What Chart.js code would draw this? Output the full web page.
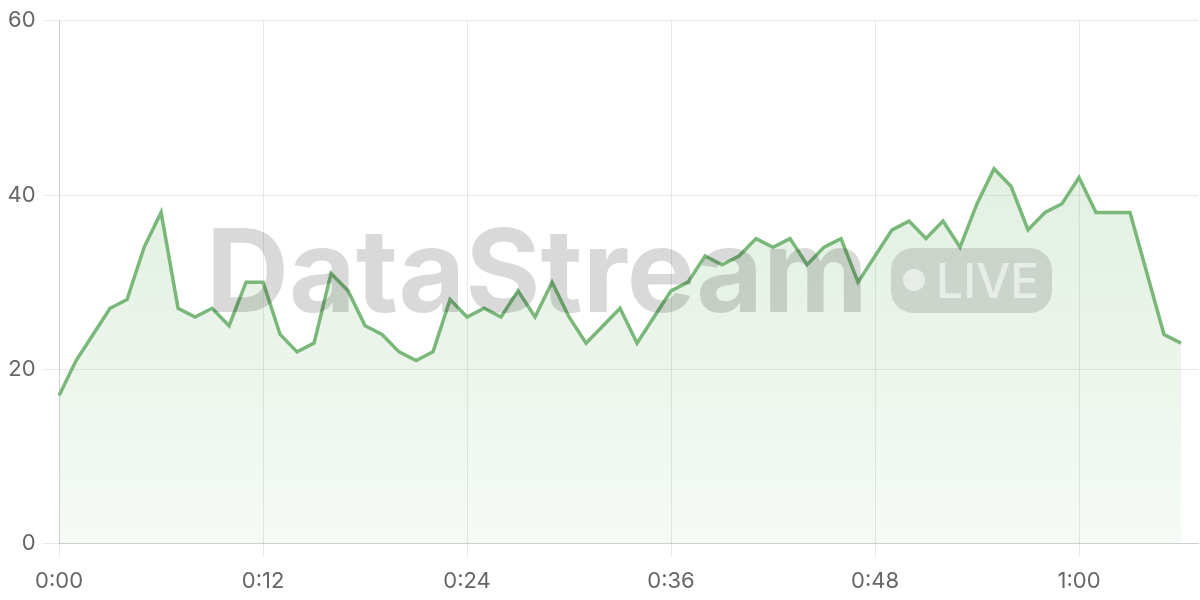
<!DOCTYPE html>
<html>
<head>
<meta charset="utf-8">
<script src="https://cdn.jsdelivr.net/npm/chart.js@4"></script>
<style>
  body { margin: 0; background: #fff; }
  #wrap { position: relative; width: 1200px; height: 600px; }
  .wm { position: absolute; pointer-events: none; font-family: Inter, "Noto Sans", sans-serif; font-weight: 700; }
  #wm-text { left: 206px; top: 201px; font-size: 115px; letter-spacing: 0px; color: rgba(0,0,0,0.15); line-height: 140px; }
  #wm-pill { left: 891px; top: 248px; width: 161px; height: 65px; border-radius: 22px; background: rgba(0,0,0,0.12); }
  #wm-dot { left: 903px; top: 269px; width: 22px; height: 22px; border-radius: 50%; background: rgba(255,255,255,0.55); }
  #wm-live { left: 936px; top: 250px; font-size: 48px; font-weight: 500; color: rgba(255,255,255,0.55); line-height: 62px; }
</style>
</head>
<body>
<div id="wrap">
  <canvas id="chart" width="1200" height="600"></canvas>
  <div class="wm" id="wm-text">DataStream</div>
  <div class="wm" id="wm-pill"></div>
  <div class="wm" id="wm-dot"></div>
  <div class="wm" id="wm-live">LIVE</div>
</div>
<script>
// minutes 0..67, one point per minute (last slot empty)
const minutes = Array.from({ length: 68 }, (_, i) => i);
const timeLabels = minutes.map((m) => Math.floor(m / 60) + ":" + String(m % 60).padStart(2, "0"));

const values = [
  17, 21, 24, 27, 28, 34, 38, 27, 26, 27, 25, 30, 30, 24, 22, 23, 31, 29, 25, 24,
  22, 21, 22, 28, 26, 27, 26, 29, 26, 30, 26, 23, 25, 27, 23, 26, 29, 30, 33, 32,
  33, 35, 34, 35, 32, 34, 35, 30, 33, 36, 37, 35, 37, 34, 39, 43, 41, 36, 38, 39,
  42, 38, 38, 38, 31, 24, 23,
];

const yTicks = [0, 20, 40, 60];

const ctx = document.getElementById("chart").getContext("2d");

new Chart(ctx, {
  type: "line",
  data: {
    labels: timeLabels,
    datasets: [
      {
        data: values,
        borderColor: "#79b879",
        borderWidth: 3.5,
        pointRadius: 0,
        tension: 0,
        fill: "origin",
        backgroundColor: (c) => {
          const area = c.chart.chartArea;
          if (!area) return "rgba(121,184,121,0.15)";
          const g = c.chart.ctx.createLinearGradient(0, area.top, 0, area.bottom);
          g.addColorStop(0, "rgba(121,184,121,0.28)");
          g.addColorStop(1, "rgba(121,184,121,0.07)");
          return g;
        },
      },
    ],
  },
  options: {
    responsive: false,
    animation: false,
    layout: { padding: { top: 6, right: 2, left: 0, bottom: -6 } },
    plugins: { legend: { display: false }, tooltip: { enabled: false } },
    scales: {
      x: {
        grid: { color: "rgba(0,0,0,0.09)", tickLength: 14 },
        border: { color: "#cfcfcf" },
        ticks: {
          autoSkip: false,
          maxRotation: 0,
          color: "#666",
          font: { family: "Inter", size: 22 },
          padding: 11,
          callback: (v, i) => (i % 12 === 0 ? timeLabels[i] : null),
        },
      },
      y: {
        min: yTicks[0],
        max: yTicks[yTicks.length - 1],
        afterBuildTicks: (s) => { s.ticks = yTicks.map((v) => ({ value: v })); },
        grid: { color: "rgba(0,0,0,0.09)", tickLength: 16 },
        border: { color: "#cfcfcf" },
        ticks: { color: "#666", font: { family: "Inter", size: 22 }, padding: 7.5 },
      },
    },
  },
});
</script>
</body>
</html>
